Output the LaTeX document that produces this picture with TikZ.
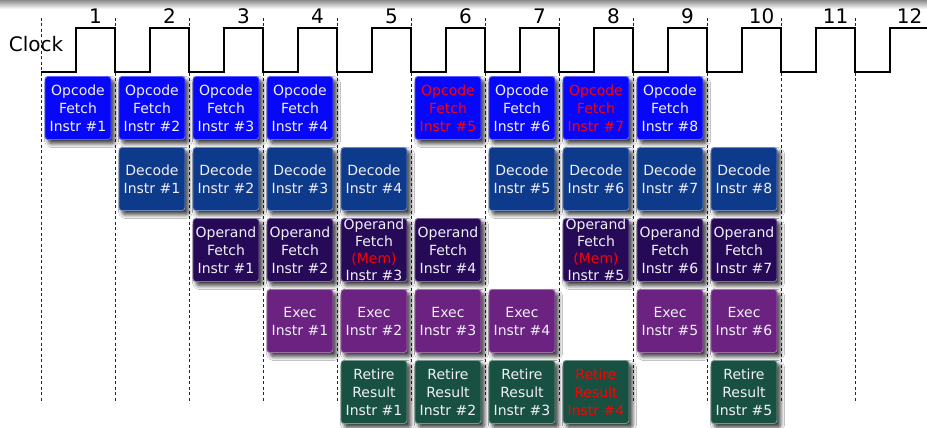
\documentclass[tikz,border=0pt]{standalone}
\usepackage{fontspec}
\setmainfont{DejaVu Sans}
\usetikzlibrary{shadows.blur}
\definecolor{opblue}{RGB}{8,8,248}
\definecolor{decblue}{RGB}{14,58,140}
\definecolor{operandc}{RGB}{38,10,88}
\definecolor{execc}{RGB}{108,34,128}
\definecolor{retirec}{RGB}{24,80,66}
\definecolor{boxtext}{RGB}{240,240,248}
\tikzset{
  stagebox/.style={rounded corners=3pt, minimum width=66pt, minimum height=63pt,
    inner sep=0pt, align=center, text=boxtext, line width=0.9pt,
    font=\fontsize{14}{18}\selectfont,
    blur shadow={shadow xshift=3.5pt, shadow yshift=-4pt, shadow blur radius=4pt,
      shadow blur steps=8, shadow opacity=80}},
  opbox/.style={stagebox, fill=opblue, draw=opblue!65!white},
  decbox/.style={stagebox, fill=decblue, draw=decblue!60!white},
  operbox/.style={stagebox, fill=operandc, draw=operandc!60!white},
  memtext/.style={font=\fontsize{14}{17}\selectfont},
  execbox/.style={stagebox, fill=execc, draw=execc!65!white},
  retbox/.style={stagebox, fill=retirec, draw=retirec!60!white},
  hot/.style={text=red},
  clockline/.style={draw=black, line width=1.4pt},
  tickline/.style={draw=black!85, line width=0.7pt, dash pattern=on 3pt off 2.5pt},
  numlabel/.style={font=\fontsize{20}{24}\selectfont, anchor=base, inner sep=0pt},
}
\begin{document}
\begin{tikzpicture}[x=1pt, y=-1pt]
\useasboundingbox (0,0) rectangle (927,428);
\clip (0,0) rectangle (927,428);
\fill[white] (0,0) rectangle (927,428);
\shade[top color=black!45, bottom color=white] (0,0) rectangle (927,9);
% dashed cycle lines
\foreach \k in {0,...,11}{
  \draw[tickline] ({41+74*\k},18) -- ({41+74*\k},403);
}
% clock
\draw[clockline, line join=miter] (41,72)
  \foreach \k in {0,...,11}{
    -- ({41+74*\k+35},72) -- ({41+74*\k+35},28) -- ({41+74*(\k+1)},28) -- ({41+74*(\k+1)},72)
  };
\node[font=\fontsize{20}{24}\selectfont, inner sep=0pt] (clk) at (36,44) {Clock};
\foreach \k in {1,...,12}{
  \node[numlabel] (n\k) at ({41+74*(\k-1)+54.5},23.5) {\k};
}
% row 1: opcode fetch
\node[opbox] (o1) at (78,108) {Opcode\\Fetch\\Instr \#1};
\node[opbox] (o2) at (152,108) {Opcode\\Fetch\\Instr \#2};
\node[opbox] (o3) at (226,108) {Opcode\\Fetch\\Instr \#3};
\node[opbox] (o4) at (300,108) {Opcode\\Fetch\\Instr \#4};
\node[opbox, hot] (o5) at (448,108) {Opcode\\Fetch\\Instr \#5};
\node[opbox] (o6) at (522,108) {Opcode\\Fetch\\Instr \#6};
\node[opbox, hot] (o7) at (596,108) {Opcode\\Fetch\\Instr \#7};
\node[opbox] (o8) at (670,108) {Opcode\\Fetch\\Instr \#8};
% row 2: decode
\node[decbox] (d1) at (152,179) {Decode\\Instr \#1};
\node[decbox] (d2) at (226,179) {Decode\\Instr \#2};
\node[decbox] (d3) at (300,179) {Decode\\Instr \#3};
\node[decbox] (d4) at (374,179) {Decode\\Instr \#4};
\node[decbox] (d5) at (522,179) {Decode\\Instr \#5};
\node[decbox] (d6) at (596,179) {Decode\\Instr \#6};
\node[decbox] (d7) at (670,179) {Decode\\Instr \#7};
\node[decbox] (d8) at (744,179) {Decode\\Instr \#8};
% row 3: operand fetch
\node[operbox] (f1) at (226,250) {Operand\\Fetch\\Instr \#1};
\node[operbox] (f2) at (300,250) {Operand\\Fetch\\Instr \#2};
\node[operbox, memtext] (f3) at (374,250) {Operand\\Fetch\\\textcolor{red}{(Mem)}\\Instr \#3};
\node[operbox] (f4) at (448,250) {Operand\\Fetch\\Instr \#4};
\node[operbox, memtext] (f5) at (596,250) {Operand\\Fetch\\\textcolor{red}{(Mem)}\\Instr \#5};
\node[operbox] (f6) at (670,250) {Operand\\Fetch\\Instr \#6};
\node[operbox] (f7) at (744,250) {Operand\\Fetch\\Instr \#7};
% row 4: exec
\node[execbox] (e1) at (300,321) {Exec\\Instr \#1};
\node[execbox] (e2) at (374,321) {Exec\\Instr \#2};
\node[execbox] (e3) at (448,321) {Exec\\Instr \#3};
\node[execbox] (e4) at (522,321) {Exec\\Instr \#4};
\node[execbox] (e5) at (670,321) {Exec\\Instr \#5};
\node[execbox] (e6) at (744,321) {Exec\\Instr \#6};
% row 5: retire
\node[retbox] (r1) at (374,392) {Retire\\Result\\Instr \#1};
\node[retbox] (r2) at (448,392) {Retire\\Result\\Instr \#2};
\node[retbox] (r3) at (522,392) {Retire\\Result\\Instr \#3};
\node[retbox, hot] (r4) at (596,392) {Retire\\Result\\Instr \#4};
\node[retbox] (r5) at (744,392) {Retire\\Result\\Instr \#5};
\end{tikzpicture}
\end{document}
